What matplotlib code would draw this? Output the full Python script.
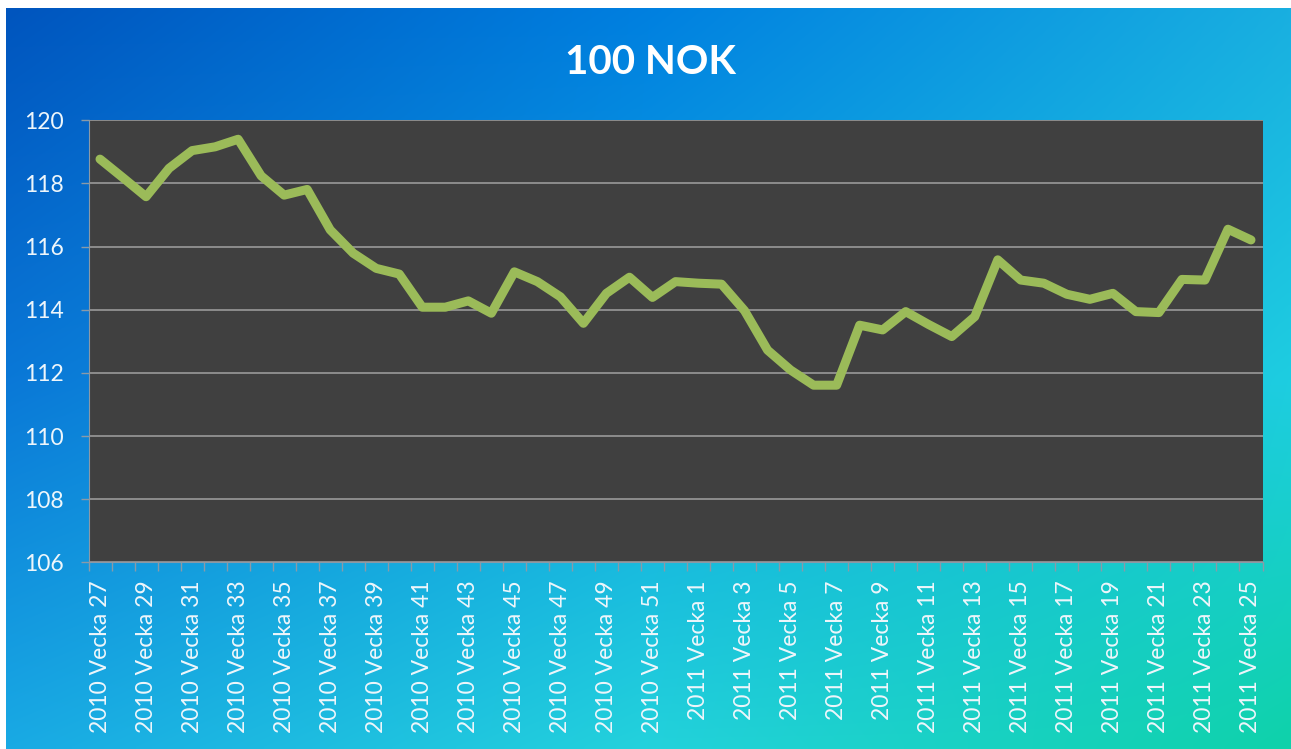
import numpy as np
import matplotlib.pyplot as plt
from matplotlib.ticker import FixedLocator

# weekly values, 2010 v27 .. 2011 v25
weeks_2010 = list(range(27, 53))
weeks_2011 = list(range(1, 26))
values = [118.77, 118.18, 117.58, 118.48, 119.04, 119.16, 119.40, 118.24, 117.63, 117.81,
          116.53, 115.79, 115.31, 115.13, 114.08, 114.08, 114.28, 113.89, 115.20, 114.89,
          114.41, 113.57, 114.52, 115.03, 114.39, 114.89, 114.84, 114.81, 113.97, 112.72,
          112.09, 111.61, 111.61, 113.51, 113.36, 113.94, 113.53, 113.15, 113.78, 115.58,
          114.94, 114.84, 114.49, 114.33, 114.52, 113.94, 113.91, 114.96, 114.94, 116.55,
          116.21]
categories = [f"2010 Vecka {w}" for w in weeks_2010] + [f"2011 Vecka {w}" for w in weeks_2011]
y_ticks = [106, 108, 110, 112, 114, 116, 118, 120]
title = "100 NOK"

plt.rcParams['font.family'] = ['Lato', 'DejaVu Sans']

W, H = 1291, 749
fig = plt.figure(figsize=(W / 100, H / 100), dpi=100, facecolor='white')

# gradient background: 3x3 control colours, interpolated
ctrl = np.array([
    [[0, 85, 190], [0, 128, 224], [25, 175, 225]],
    [[10, 120, 215], [15, 165, 225], [30, 205, 225]],
    [[25, 170, 228], [35, 210, 220], [15, 210, 170]],
]) / 255
nx_, ny_ = 260, 150
xs = np.linspace(0, 2, nx_)
ys = np.linspace(0, 2, ny_)
rows = np.stack([np.stack([np.interp(xs, [0, 1, 2], ctrl[r, :, c]) for c in range(3)], -1)
                 for r in range(3)])
grad = np.stack([np.stack([np.interp(ys, [0, 1, 2], rows[:, i, c]) for c in range(3)], -1)
                 for i in range(nx_)], 1)

bg = fig.add_axes([6 / W, 0, 1 - 6 / W, 1 - 8 / H])
bg.imshow(grad, aspect='auto', extent=[0, 1, 0, 1], origin='upper', interpolation='bilinear')
bg.set_axis_off()

ax = fig.add_axes([88.5 / W, 1 - 562.3 / H, (1262.5 - 88.5) / W, (562.3 - 120.3) / H])
ax.set_facecolor('#404040')
x = np.arange(len(values))
ax.plot(x, values, color='#9BBB59', lw=6.5, solid_joinstyle='round', solid_capstyle='round', zorder=3)

ax.set_xlim(-0.5, len(values) - 0.5)
ax.set_ylim(106, 120)
ax.set_yticks(y_ticks)
ax.set_yticklabels([str(t) for t in y_ticks])
ax.grid(axis='y', color='#9a9a9a', lw=1.2)
ax.set_axisbelow(True)

ax.set_xticks(x[::2])
ax.set_xticklabels(categories[::2], rotation=90)
ax.xaxis.set_minor_locator(FixedLocator(np.arange(-0.5, len(values), 1)))
ax.tick_params(axis='x', which='major', length=0, pad=13, labelsize=16.5, labelcolor='#eef6fb')
ax.tick_params(axis='x', which='minor', length=6.5, color='#8a9aa8', width=1)
ax.tick_params(axis='y', length=6, pad=12, labelsize=16.5, labelcolor='#eef6fb', color='#8a9aa8', width=1)

for side in ['top', 'right']:
    ax.spines[side].set_visible(False)
for side in ['left', 'bottom']:
    ax.spines[side].set_color('#8a9aa8')

fig.text(650 / W, 1 - 63 / H, title, ha='center', va='center', fontsize=29,
         fontweight='bold', color='white')

fig.savefig('out.png', dpi=100, facecolor='white')
